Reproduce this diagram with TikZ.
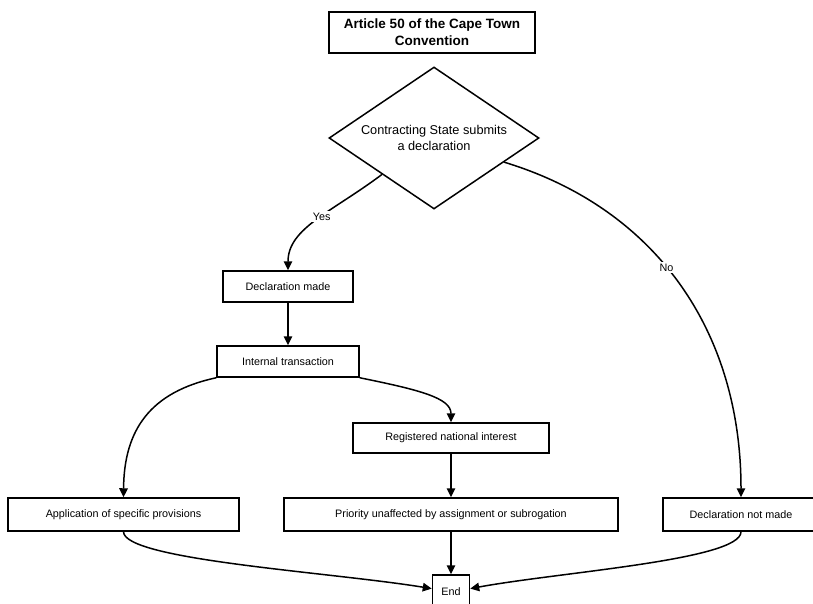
\documentclass[tikz,border=0pt]{standalone}
\usepackage{fontspec}
\setmainfont{Liberation Sans}
\usetikzlibrary{shapes.geometric,arrows.meta}
\begin{document}
\begin{tikzpicture}[x=1pt,y=-1pt,
  box/.style={draw, line width=1.5pt, inner sep=0pt, align=center,
    font=\fontsize{10.8}{13}\selectfont},
  link/.style={line width=1.5pt, -{Triangle[length=9pt,width=8.5pt]}},
  lbl/.style={fill=white, inner sep=1.5pt, font=\fontsize{10.8}{13}\selectfont}]
\useasboundingbox (0,0) rectangle (813,603);
\clip (0,0) rectangle (813,603);

% title and decision
\node[box, minimum width=206, minimum height=41,
  font=\bfseries\fontsize{13.5}{17}\selectfont] (title) at (432,32.5)
  {Article 50 of the Cape Town\\Convention};
\node[draw, diamond, shape aspect=1.5, line width=1.5pt, minimum width=210, minimum height=142,
  inner sep=0pt, align=center, font=\fontsize{12.75}{16}\selectfont] (dec) at (434,138)
  {Contracting State submits\\a declaration};

% process boxes
\node[box, minimum width=130, minimum height=31] (made) at (288,286.5) {Declaration made};
\node[box, minimum width=142, minimum height=31] (int) at (288,361.5) {Internal transaction};
\node[box, minimum width=196, minimum height=30] (reg) at (451,438) {Registered national interest};
\node[box, minimum width=231, minimum height=33] (app) at (123.5,514.5) {Application of specific provisions};
\node[box, minimum width=334, minimum height=33] (pri) at (451,514.5) {Priority unaffected by assignment or subrogation};
\node[box, minimum width=156, minimum height=33] (notm) at (741,514.5) {Declaration not made};
\node[box, minimum width=37, minimum height=34] (end) at (451,592) {End};

% connectors
\draw[link] (dec.215) .. controls (332,212) and (288,228) .. node[lbl, pos=0.45] {Yes} (made.north);
\draw[link] (dec.-19) .. controls (655,208) and (741,330) .. node[lbl, pos=0.45] {No} (notm.north);
\draw[link] (made) -- (int);
\draw[link] (int.south west) .. controls (150,392) and (124,430) .. (app.north);
\draw[link] (int.south east) .. controls (420,390) and (451,398) .. (reg.north);
\draw[link] (reg) -- (pri);
\draw[link] (pri) -- (end);
\draw[link] (app.south) .. controls (124,560) and (330,572) .. (end.170);
\draw[link] (notm.south) .. controls (741,560) and (560,572) .. (end.10);
\end{tikzpicture}
\end{document}
